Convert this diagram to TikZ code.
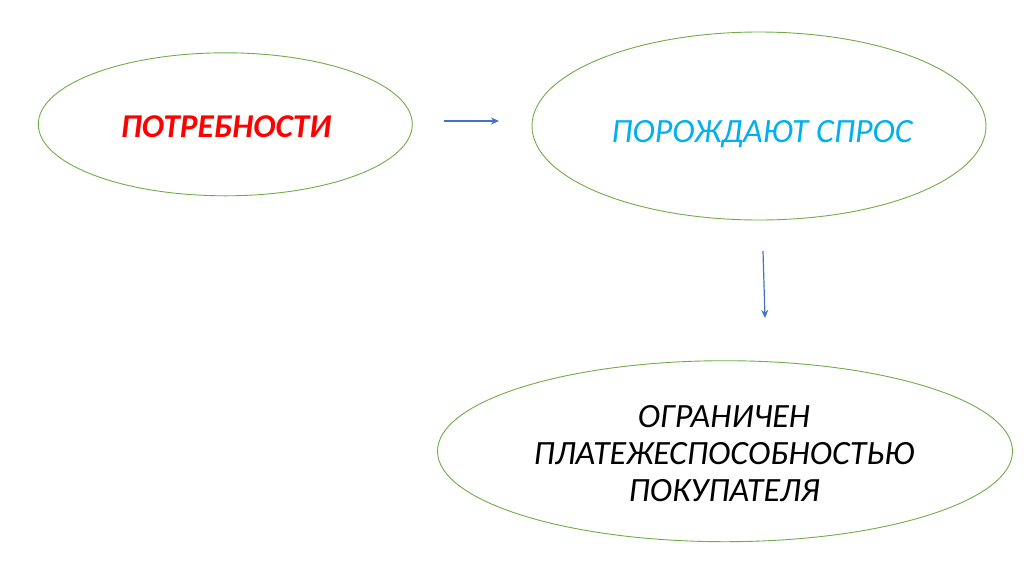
\documentclass[tikz,border=0pt]{standalone}
\usepackage{fontspec}
\setmainfont{Carlito}
\usetikzlibrary{shapes.geometric,arrows.meta}
\definecolor{ellgreen}{HTML}{70AD47}
\definecolor{arrblue}{HTML}{4472C4}
\definecolor{txtblue}{HTML}{00B0F0}
\begin{document}
\begin{tikzpicture}[x=1pt,y=-1pt,
  oval/.style={ellipse, draw=ellgreen, line width=0.9pt, inner sep=0pt},
  lbl/.style={inner sep=0pt, font=\fontsize{34}{37}\selectfont\itshape},
  conn/.style={draw=arrblue, line width=1.2pt, -{Stealth[length=8pt,width=7pt]}}]
\useasboundingbox[fill=white] (0,0) rectangle (1024,574);
\node[oval, minimum width=374pt, minimum height=143pt] (e1) at (225.3,124.3) {};
\node[oval, minimum width=454pt, minimum height=188pt] (e2) at (759,126) {};
\node[oval, minimum width=575pt, minimum height=181pt] (e3) at (725,451.2) {};
\node[lbl, anchor=base, text=red, font=\fontsize{33.3}{37}\selectfont\bfseries\itshape] (t1) at (226,137.5) {ПОТРЕБНОСТИ};
\node[lbl, anchor=base, text=txtblue] (t2) at (762,142) {ПОРОЖДАЮТ СПРОС};
\node[lbl, align=center, text=black] (t3) at (724,453.5) {ОГРАНИЧЕН\\ПЛАТЕЖЕСПОСОБНОСТЬЮ\\ПОКУПАТЕЛЯ};
\coordinate (a1s) at (444,121);
\coordinate (a1e) at (499,121);
\coordinate (a2s) at (763,251);
\coordinate (a2e) at (765,318);
\draw[conn] (a1s) -- (a1e);
\draw[conn] (a2s) -- (a2e);
\end{tikzpicture}
\end{document}
